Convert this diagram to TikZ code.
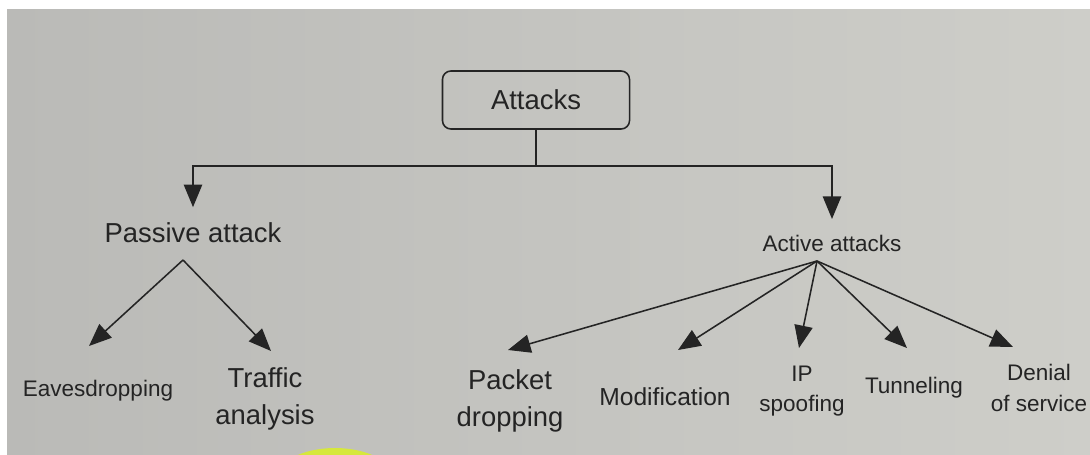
\documentclass[tikz,border=0pt]{standalone}
\usepackage{fontspec}
\setmainfont{Liberation Sans}
\usepackage{xcolor}
\definecolor{pageleft}{RGB}{186,186,183}
\definecolor{pageright}{RGB}{206,206,201}
\definecolor{inkgray}{RGB}{36,36,36}
\definecolor{marker}{RGB}{214,232,60}
\usetikzlibrary{arrows.meta}

\tikzset{
  ink/.style={draw=inkgray, line width=1.1pt},
  arr/.style={ink, -{Triangle[length=16pt,width=13pt]}},
  drop/.style={arr, shorten >=9pt},
  rootbox/.style={ink, rounded corners=6pt, minimum width=4.675cm, minimum height=1.45cm,
    text=inkgray, font=\fontsize{19.5}{24}\selectfont},
  lbl/.style={text=inkgray, inner sep=2pt, align=center},
  lblbig/.style={lbl, font=\fontsize{19.5}{26}\selectfont},
  lblmid/.style={lbl, font=\fontsize{17.5}{23}\selectfont},
  lblsml/.style={lbl, font=\fontsize{16}{21.5}\selectfont}
}

\begin{document}
\begin{tikzpicture}[x=0.025cm, y=-0.025cm]
  % Page
  \useasboundingbox (0,0) rectangle (1090,454);
  \clip (0,0) rectangle (1090,454);
  \fill[white] (0,0) rectangle (1090,454);
  \shade[left color=pageleft, right color=pageright] (7,9) rectangle (1090,454);
  \fill[marker] (335,478) ellipse (58 and 30);

  % --- Root ---
  \node[rootbox] (attacks) at (536,100) {Attacks};
  \coordinate (split) at (536,166);
  \draw[ink] (attacks.south) -- (split);

  % --- Two kinds ---
  \node[lblbig] (pasv) at (193,233) {Passive attack};
  \node[lblsml] (actv) at (832,243) {Active attacks};
  \draw[drop] (split) -| (pasv);
  \draw[drop] (split) -| (actv);

  % --- Passive leaves ---
  \node[lblsml] (eaves) at (98,391) {Eavesdropping};
  \node[lblbig] (traffic) at (265,399) {Traffic\\analysis};
  \coordinate (pasvFork) at (183,260);
  \coordinate (eavesTip) at (89,346);
  \coordinate (trafficTip) at (271,351);
  \draw[arr] (pasvFork) -- (eavesTip);
  \draw[arr] (pasvFork) -- (trafficTip);

  % --- Active leaves ---
  \node[lblbig] (pkt) at (510,401) {Packet\\dropping};
  \node[lblmid] (mod) at (665,397) {Modification};
  \node[lblsml] (ip) at (802,391) {IP\\spoofing};
  \node[lblsml] (tun) at (914,388) {Tunneling};
  \node[lblsml] (dos) at (1039,388) {Denial\\of service};
  \coordinate (actvFork) at (817,261);
  \coordinate (pktTip) at (508,350);
  \coordinate (modTip) at (678,350);
  \coordinate (ipTip) at (799,348);
  \coordinate (tunTip) at (907,348);
  \coordinate (dosTip) at (1013,347);
  \foreach \t in {pktTip, modTip, ipTip, tunTip, dosTip}
    \draw[arr] (actvFork) -- (\t);
\end{tikzpicture}
\end{document}
